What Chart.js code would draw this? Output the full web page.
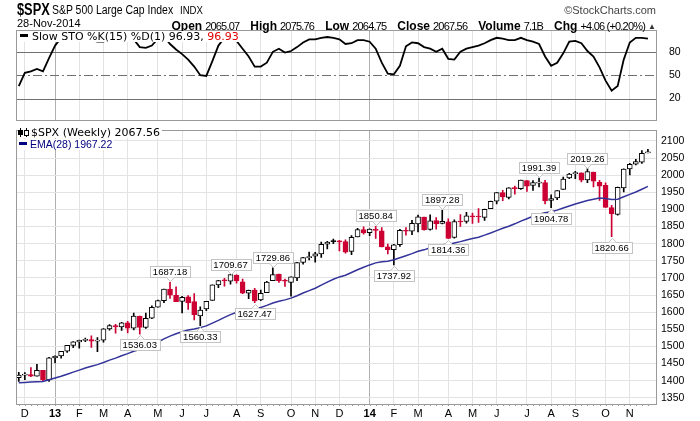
<!DOCTYPE html>
<html>
<head>
<meta charset="utf-8">
<script src="https://cdn.jsdelivr.net/npm/chart.js@4.4.1/dist/chart.umd.min.js"></script>
<style>
  html, body { margin: 0; padding: 0; background: #fff; }
  #wrap { position: relative; width: 700px; height: 421px; overflow: hidden; font-family: 'Liberation Sans', Arial, sans-serif; color: #000; }
  canvas { position: absolute; left: 0; }
  .t { position: absolute; white-space: nowrap; line-height: 1; }
  .lbl { font-weight: bold; font-size: 12px; margin-left: 11px; }
  .num { font-size: 11px; letter-spacing: -0.8px; margin-left: 3px; }
  .leg { position: absolute; white-space: nowrap; line-height: 11px; height: 11px; background: #fff; font-family: 'DejaVu Sans', sans-serif; font-size: 11px; }
  .dash { display: inline-block; width: 8px; height: 3px; vertical-align: 3px; margin-right: 4px; }
</style>
</head>
<body>
<div id="wrap">
  <canvas id="sto" width="700" height="130" style="top:0"></canvas>
  <canvas id="price" width="700" height="301" style="top:120px"></canvas>

  <div class="t" style="left:17px;top:2px;font-size:16px;font-weight:bold;transform:scaleX(.8);transform-origin:0 0">$SPX</div>
  <div class="t" style="left:52px;top:3.5px;font-size:12px;transform:scaleX(.87);transform-origin:0 0">S&amp;P 500 Large Cap Index</div>
  <div class="t" style="left:180px;top:4.5px;font-size:11px;transform:scaleX(.87);transform-origin:0 0">INDX</div>
  <div class="t" style="right:44px;top:4.5px;font-size:11px;color:#444">©StockCharts.com</div>
  <div class="t" style="left:17px;top:17.5px;font-size:11px">28-Nov-2014</div>
  <div class="t" id="quote" style="right:44px;top:16.5px"></div>

  <div class="leg" style="left:18px;top:31px;padding-right:2px"><span class="dash" style="background:#000;margin-left:2px"></span><span id="stoLeg"></span></div>
  <div class="leg" style="left:18px;top:127px;padding-right:2px">
    <span style="display:inline-block;width:11px;height:9px;position:relative;vertical-align:-1px;margin-right:2px">
      <span style="position:absolute;left:2px;top:0;width:1px;height:9px;background:#000"></span>
      <span style="position:absolute;left:0;top:2px;width:5px;height:5px;background:#000"></span>
      <span style="position:absolute;left:8px;top:0;width:1px;height:9px;background:#000"></span>
      <span style="position:absolute;left:6px;top:2px;width:3px;height:4px;border:1px solid #000;background:#fff"></span>
    </span><span id="pxLeg"></span>
  </div>
  <div class="leg" style="left:18px;top:139px;font-family:'Liberation Sans',Arial,sans-serif;font-size:10.5px;color:#000080;padding-right:2px"><span class="dash" style="background:#000080;margin-left:1px;margin-right:3px"></span><span id="emaLeg"></span></div>
</div>

<script>
// weekly bars, week of 26-Nov-2012 .. week of 24-Nov-2014
const OPEN = [1409.15, 1416.34, 1418.07, 1413.54, 1430.15, 1402.43, 1466.47, 1472.05, 1485.98, 1502.96,
  1513.17, 1517.93, 1519.79, 1515.60, 1518.20, 1551.18, 1560.70, 1556.89, 1569.18, 1553.26,
  1588.85, 1555.25, 1582.24, 1614.42, 1633.70, 1667.47, 1649.60, 1631.71, 1644.67, 1630.64,
  1588.77, 1609.78, 1634.20, 1679.59, 1694.41, 1690.32, 1708.01, 1688.37, 1655.25, 1664.29,
  1635.95, 1656.85, 1691.70, 1711.44, 1691.36, 1687.15, 1699.86, 1745.20, 1759.42, 1763.40,
  1769.96, 1798.82, 1806.33, 1806.55, 1806.21, 1777.48, 1819.92, 1841.47, 1832.31, 1841.26,
  1837.28, 1791.03, 1782.68, 1797.02, 1838.63, 1836.78, 1857.68, 1877.86, 1841.76, 1867.67,
  1859.16, 1863.92, 1818.18, 1865.79, 1865.00, 1879.45, 1880.03, 1876.66, 1902.01, 1923.87,
  1948.97, 1934.84, 1962.92, 1960.79, 1984.22, 1969.86, 1976.93, 1978.25, 1926.62, 1933.43,
  1958.36, 1991.74, 2004.07, 2007.17, 1986.04, 2009.08, 1978.96, 1970.01, 1905.65, 1885.62,
  1962.97, 2018.21, 2032.01, 2038.29, 2065.07];
const HIGH = [1424.37, 1423.73, 1438.59, 1448.00, 1430.15, 1467.94, 1472.75, 1485.98, 1503.26, 1514.41,
  1518.31, 1524.69, 1530.94, 1525.84, 1552.48, 1563.62, 1564.50, 1570.28, 1573.66, 1597.35,
  1588.85, 1597.61, 1618.46, 1635.01, 1667.47, 1687.18, 1674.21, 1646.53, 1648.69, 1654.19,
  1615.94, 1632.07, 1680.19, 1693.12, 1698.78, 1709.67, 1709.24, 1696.81, 1664.85, 1669.51,
  1664.83, 1689.97, 1729.86, 1711.44, 1696.55, 1703.44, 1745.31, 1759.82, 1775.22, 1774.54,
  1804.84, 1807.23, 1813.55, 1810.02, 1811.52, 1823.75, 1844.89, 1849.44, 1843.23, 1850.84,
  1847.10, 1798.77, 1798.03, 1841.65, 1846.87, 1867.92, 1883.57, 1877.87, 1883.97, 1875.92,
  1897.28, 1872.53, 1869.63, 1884.89, 1891.33, 1889.07, 1902.17, 1901.26, 1924.03, 1949.44,
  1955.55, 1963.91, 1968.17, 1985.59, 1984.22, 1983.94, 1991.39, 1984.85, 1942.92, 1955.23,
  1994.76, 2005.04, 2011.17, 2007.17, 2019.26, 2009.08, 1985.17, 1977.84, 1912.09, 1965.27,
  2018.19, 2034.26, 2046.18, 2071.46, 2075.76];
const LOW = [1397.68, 1403.28, 1411.88, 1413.54, 1398.11, 1398.11, 1451.64, 1465.69, 1482.50, 1496.33,
  1495.02, 1513.61, 1497.29, 1485.01, 1512.29, 1547.64, 1538.57, 1546.50, 1539.50, 1548.19,
  1536.03, 1552.28, 1581.28, 1614.40, 1627.71, 1640.05, 1630.74, 1598.23, 1608.07, 1577.70,
  1560.33, 1604.57, 1634.20, 1671.84, 1676.03, 1681.86, 1684.91, 1654.19, 1639.43, 1627.47,
  1633.41, 1656.85, 1691.70, 1687.11, 1674.99, 1646.47, 1692.13, 1740.50, 1752.70, 1746.20,
  1760.23, 1785.00, 1800.17, 1779.09, 1772.28, 1767.99, 1819.92, 1827.74, 1823.73, 1815.52,
  1790.29, 1770.45, 1737.92, 1791.83, 1825.19, 1826.54, 1834.44, 1839.57, 1839.49, 1842.11,
  1857.84, 1814.36, 1816.10, 1850.61, 1859.79, 1859.02, 1862.36, 1868.14, 1902.01, 1915.98,
  1925.78, 1930.91, 1944.69, 1958.22, 1952.86, 1955.59, 1965.77, 1916.37, 1904.78, 1928.29,
  1958.36, 1989.88, 1990.10, 1980.26, 1978.48, 1965.99, 1926.03, 1906.05, 1820.66, 1882.88,
  1951.37, 2001.01, 2030.17, 2034.46, 2064.75];
const CLOSE = [1416.18, 1418.07, 1413.58, 1430.15, 1402.43, 1466.47, 1472.05, 1485.98, 1502.96, 1513.17,
  1517.93, 1519.79, 1515.60, 1518.20, 1551.18, 1560.70, 1556.89, 1569.19, 1553.28, 1588.85,
  1555.25, 1582.24, 1614.42, 1633.70, 1667.47, 1649.60, 1630.74, 1643.38, 1626.73, 1592.43,
  1606.28, 1631.89, 1680.19, 1692.09, 1691.65, 1709.67, 1691.42, 1655.83, 1663.50, 1632.97,
  1655.17, 1687.99, 1709.91, 1691.75, 1690.50, 1703.20, 1744.50, 1759.77, 1761.64, 1770.61,
  1798.18, 1804.76, 1805.81, 1805.09, 1775.32, 1818.32, 1841.40, 1831.37, 1842.37, 1838.70,
  1790.29, 1782.59, 1797.02, 1838.63, 1836.25, 1859.45, 1878.04, 1841.13, 1866.52, 1857.62,
  1865.09, 1815.69, 1864.85, 1863.40, 1881.14, 1878.48, 1877.86, 1900.53, 1923.57, 1949.44,
  1936.16, 1962.87, 1960.96, 1985.44, 1967.57, 1978.22, 1978.34, 1925.15, 1931.59, 1955.06,
  1988.40, 2003.37, 2007.71, 1985.54, 2010.40, 1982.85, 1967.90, 1906.13, 1886.76, 1964.58,
  2018.05, 2031.92, 2039.82, 2063.50, 2067.56];
const EMA28 = [1394, 1395, 1396, 1397, 1398, 1403, 1408, 1413, 1419, 1425,
  1431, 1437, 1442, 1447, 1453, 1460, 1466, 1473, 1479, 1486,
  1491, 1497, 1505, 1513, 1522, 1530, 1537, 1543, 1548, 1551,
  1555, 1560, 1568, 1576, 1585, 1593, 1600, 1604, 1608, 1611,
  1614, 1620, 1627, 1632, 1636, 1641, 1648, 1656, 1663, 1670,
  1679, 1688, 1696, 1703, 1708, 1716, 1724, 1731, 1738, 1744,
  1747, 1749, 1753, 1759, 1765, 1771, 1778, 1782, 1788, 1792,
  1797, 1798, 1802, 1806, 1811, 1815, 1819, 1825, 1831, 1838,
  1845, 1851, 1858, 1866, 1873, 1880, 1886, 1890, 1893, 1898,
  1904, 1910, 1916, 1921, 1926, 1930, 1933, 1932, 1929, 1930,
  1937, 1944, 1951, 1959, 1967.22];
const STO_K = [36, 53, 55, 58, 55, 72, 88, 98, 99, 98,
  97, 98, 95, 93, 93, 97, 96, 98, 94, 96,
  86, 85, 88, 97, 100, 90, 83, 77, 70, 61,
  50, 49, 68, 88, 98, 98, 94, 84, 74, 61,
  61, 66, 80, 84, 79, 81, 86, 92, 96, 96,
  98, 99, 98, 96, 90, 91, 95, 95, 93, 84,
  66, 52, 51, 62, 87, 92, 91, 86, 84, 80,
  84, 71, 70, 80, 84, 86, 88, 91, 95, 98,
  97, 95, 95, 98, 95, 93, 90, 74, 62, 66,
  78, 93, 94, 91, 81, 74, 60, 43, 30, 36,
  70, 92, 98, 98, 96.93];

const MONTH_IDX = [1, 6, 10, 14, 18, 23, 27, 31, 36, 40, 45, 49, 53, 58, 62, 66, 71, 75, 79, 84, 88, 92, 97, 101];
const MONTH_LABELS = ['D', '13', 'F', 'M', 'A', 'M', 'J', 'J', 'A', 'S', 'O', 'N', 'D', '14', 'F', 'M', 'A', 'M', 'J', 'J', 'A', 'S', 'O', 'N'];
const PRICE_TICKS = [1350, 1400, 1450, 1500, 1550, 1600, 1650, 1700, 1750, 1800, 1850, 1900, 1950, 2000, 2050, 2100];
const STO_TICKS = [20, 50, 80];
const PEAK_IDX = [25, 35, 42, 59, 70, 86, 94];
const TROUGH_IDX = [20, 30, 39, 62, 71, 88, 98];
const VOLUME_TEXT = '7.1B';

const WEEK = CLOSE.map((_, i) => i);
const RED = '#cc0033';
const NAVY = '#333399';
const last = CLOSE.length - 1;

const candleColor = i => (i > 0 && CLOSE[i] < CLOSE[i - 1]) ? RED : '#000';
const isYear = k => /\d/.test(MONTH_LABELS[k]);

// header / legends
const chg = CLOSE[last] - CLOSE[last - 1];
const pct = chg / CLOSE[last - 1] * 100;
const q = [['Open', OPEN[last].toFixed(2)], ['High', HIGH[last].toFixed(2)], ['Low', LOW[last].toFixed(2)],
  ['Close', CLOSE[last].toFixed(2)], ['Volume', VOLUME_TEXT],
  ['Chg', (chg >= 0 ? '+' : '') + chg.toFixed(2) + ' (' + (pct >= 0 ? '+' : '') + pct.toFixed(2) + '%)']];
document.getElementById('quote').innerHTML = q.map((p, k) =>
  `<span class="lbl"${k === 0 ? ' style="margin-left:0"' : ''}>${p[0]}</span><span class="num">${p[1]}</span>`).join('') +
  '<span style="font-size:8px;color:#333;margin-left:3px;vertical-align:1px">▲</span>';
document.getElementById('stoLeg').innerHTML = `Slow STO %K(15) %D(1) ${STO_K[last].toFixed(2)}, <span style="color:#e00000">${STO_K[last].toFixed(2)}</span>`;
document.getElementById('pxLeg').textContent = `$SPX (Weekly) ${CLOSE[last].toFixed(2)}`;
document.getElementById('emaLeg').textContent = `EMA(28) ${EMA28[last].toFixed(2)}`;

// shared x axis: one unit per week
const xAxis = (showLabels) => ({
  type: 'linear',
  min: -0.46,
  max: 105.5,
  offset: false,
  afterBuildTicks: s => { s.ticks = MONTH_IDX.map(v => ({ value: v })); },
  afterFit: s => { s.height = showLabels ? 17 : 0; },
  grid: {
    offset: false,
    drawTicks: false,
    color: c => isYear(c.index) ? '#b0b0b0' : '#e3e3e3',
  },
  border: { display: false },
  ticks: {
    display: showLabels,
    autoSkip: false,
    maxRotation: 0,
    padding: 3,
    color: '#000',
    font: c => ({ family: "'Liberation Sans', Arial, sans-serif", size: 11, weight: isYear(c.index) ? 'bold' : 'normal' }),
    callback: (v, k) => MONTH_LABELS[k],
  },
});

const yAxis = (min, max, ticks) => ({
  position: 'right',
  min, max,
  afterBuildTicks: s => { s.ticks = ticks.map(v => ({ value: v })); },
  afterFit: s => { s.width = 43; },
  border: { display: false },
  ticks: {
    color: '#000',
    padding: 4,
    font: { family: "'Liberation Sans', Arial, sans-serif", size: 10.5 },
    callback: v => String(v),
  },
});

const framePlugin = {
  id: 'frame',
  afterDraw(chart) {
    const { ctx, chartArea: a } = chart;
    ctx.save();
    ctx.strokeStyle = '#9a9a9a';
    ctx.lineWidth = 1;
    ctx.strokeRect(Math.round(a.left) + 0.5, Math.round(a.top) + 0.5, Math.round(a.right - a.left) - 1, Math.round(a.bottom - a.top));
    ctx.restore();
  },
};

const levelsPlugin = {
  id: 'levels',
  beforeDatasetsDraw(chart) {
    const { ctx, chartArea: a, scales: { y } } = chart;
    ctx.save();
    ctx.strokeStyle = '#707070';
    ctx.lineWidth = 1;
    STO_TICKS.forEach(lv => {
      const py = Math.round(y.getPixelForValue(lv)) + 0.5;
      ctx.setLineDash(lv === 50 ? [9, 3, 2, 3] : []);
      ctx.beginPath();
      ctx.moveTo(a.left, py);
      ctx.lineTo(a.right, py);
      ctx.stroke();
    });
    ctx.restore();
  },
};

const weekTicksPlugin = {
  id: 'weekTicks',
  afterDraw(chart) {
    const { ctx, chartArea: a, scales: { x } } = chart;
    ctx.save();
    ctx.strokeStyle = '#9a9a9a';
    ctx.beginPath();
    WEEK.forEach(i => {
      const px = Math.round(x.getPixelForValue(i)) + 0.5;
      ctx.moveTo(px, a.bottom);
      ctx.lineTo(px, a.bottom + 2);
    });
    ctx.stroke();
    ctx.restore();
  },
};

function drawTag(ctx, cx, py, text, above) {
  ctx.font = "9.5px 'Liberation Sans', Arial, sans-serif";
  const w = Math.round(ctx.measureText(text).width) + 6;
  const h = 11;
  const gap = 5;
  const left = Math.round(cx - w / 2) + 0.5;
  const top = above ? Math.round(py - gap - h) + 0.5 : Math.round(py + gap) + 0.5;
  ctx.fillStyle = '#fff';
  ctx.fillRect(left, top, w, h);
  ctx.strokeStyle = '#c4c4c4';
  ctx.lineWidth = 1;
  ctx.strokeRect(left, top, w, h);
  const ey = above ? top + h : top;
  const tip = above ? ey + 4 : ey - 4;
  const nx = Math.round(cx) + 0.5;
  ctx.beginPath();
  ctx.moveTo(nx - 4, ey);
  ctx.lineTo(nx, tip);
  ctx.lineTo(nx + 4, ey);
  ctx.closePath();
  ctx.fill();
  ctx.beginPath();
  ctx.moveTo(nx - 4, ey);
  ctx.lineTo(nx, tip);
  ctx.lineTo(nx + 4, ey);
  ctx.stroke();
  ctx.fillStyle = '#000';
  ctx.textAlign = 'center';
  ctx.textBaseline = 'middle';
  ctx.fillText(text, cx, top + h / 2 + 0.5);
}

const tagsPlugin = {
  id: 'tags',
  afterDatasetsDraw(chart) {
    const { ctx, scales: { x, y } } = chart;
    ctx.save();
    PEAK_IDX.forEach(i => drawTag(ctx, x.getPixelForValue(i), y.getPixelForValue(HIGH[i]), HIGH[i].toFixed(2), true));
    TROUGH_IDX.forEach(i => drawTag(ctx, x.getPixelForValue(i), y.getPixelForValue(LOW[i]), LOW[i].toFixed(2), false));
    ctx.restore();
  },
};

const quiet = { legend: { display: false }, tooltip: { enabled: false } };

new Chart(document.getElementById('sto'), {
  type: 'line',
  data: {
    datasets: [{
      data: WEEK.map(i => ({ x: i, y: STO_K[i] })),
      borderColor: '#000',
      borderWidth: 1.8,
      pointRadius: 0,
      tension: 0,
    }],
  },
  options: {
    responsive: false,
    animation: false,
    layout: { padding: { left: 16, top: 30, right: 0, bottom: 4 } },
    plugins: quiet,
    scales: {
      x: xAxis(false),
      y: { ...yAxis(-7.2, 108, STO_TICKS), grid: { display: false } },
    },
  },
  plugins: [levelsPlugin, framePlugin],
});

new Chart(document.getElementById('price'), {
  type: 'bar',
  data: {
    datasets: [
      {
        type: 'bar',
        data: WEEK.map(i => ({ x: i, y: [LOW[i], HIGH[i]] })),
        backgroundColor: WEEK.map(candleColor),
        borderWidth: 0,
        barThickness: 1,
        grouped: false,
        order: 3,
      },
      {
        type: 'bar',
        data: WEEK.map(i => ({ x: i, y: [OPEN[i], CLOSE[i]] })),
        backgroundColor: WEEK.map(i => CLOSE[i] >= OPEN[i] ? '#fff' : candleColor(i)),
        borderColor: WEEK.map(candleColor),
        borderWidth: 1,
        borderSkipped: false,
        barThickness: 5,
        minBarLength: 1,
        grouped: false,
        order: 2,
      },
      {
        type: 'line',
        data: WEEK.map(i => ({ x: i, y: EMA28[i] })),
        borderColor: NAVY,
        borderWidth: 1.5,
        pointRadius: 0,
        tension: 0,
        order: 1,
      },
    ],
  },
  options: {
    responsive: false,
    animation: false,
    layout: { padding: { left: 16, top: 6, right: 0, bottom: 0 } },
    plugins: quiet,
    scales: {
      x: xAxis(true),
      y: { ...yAxis(1332, 2131, PRICE_TICKS), grid: { color: '#e3e3e3', drawTicks: false } },
    },
  },
  plugins: [tagsPlugin, weekTicksPlugin, framePlugin],
});
</script>
</body>
</html>
